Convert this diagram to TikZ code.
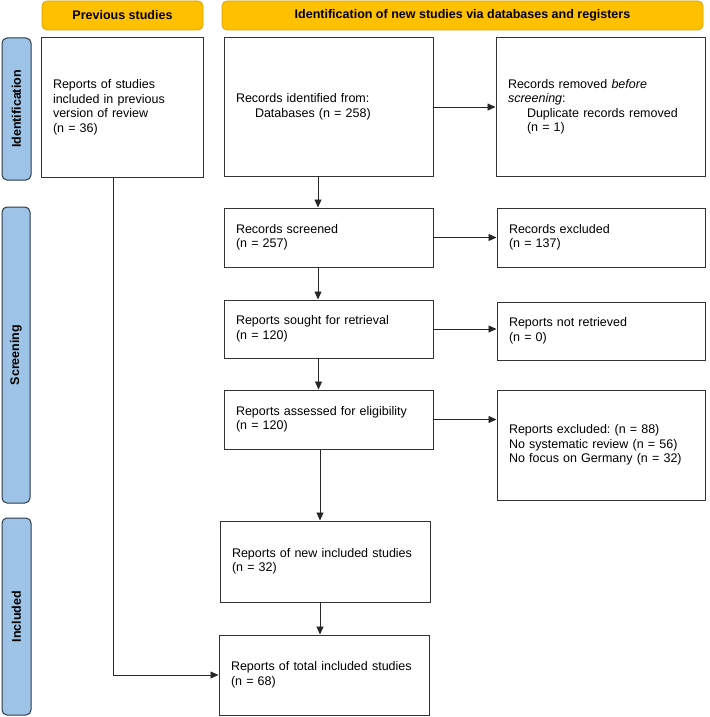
\documentclass[tikz,border=0pt]{standalone}
\usepackage{fontspec}
\setmainfont{Liberation Sans}
\usetikzlibrary{arrows.meta}
\definecolor{hdrfill}{HTML}{FFC000}
\definecolor{hdrdraw}{HTML}{D9A300}
\definecolor{sidefill}{HTML}{9DC3E6}
\definecolor{sidedraw}{HTML}{2E3A4A}
\definecolor{boxdraw}{HTML}{333333}
\frenchspacing
\begin{document}
\begin{tikzpicture}[x=1pt,y=-1pt,
  font=\fontsize{12.5}{14.5}\selectfont,
  hdr/.style={draw=hdrdraw,fill=hdrfill,rounded corners=5pt,line width=0.8pt,inner sep=0pt,font=\fontsize{12.5}{14.5}\selectfont\bfseries},
  side/.style={draw=sidedraw,fill=sidefill,rounded corners=5pt,line width=1pt,inner sep=0pt,rotate=90,font=\fontsize{12.5}{14.5}\selectfont\bfseries},
  flowbox/.style={draw=boxdraw,line width=1pt,inner xsep=12pt,inner ysep=0pt,align=left},
  conn/.style={draw=black!85,line width=0.8pt,-{Triangle[length=8pt,width=7pt]}}
]
\useasboundingbox (0,0) rectangle (709,717);
% headers
\node[hdr,minimum width=161pt,minimum height=29pt] (prevhead) at (122.5,15.5) {Previous studies};
\node[hdr,minimum width=481pt,minimum height=29pt] (idhead) at (462.5,15.5) {Identification of new studies via databases and registers};
% side labels
\node[side,minimum width=142pt,minimum height=29pt] (sideid) at (16.5,109) {Identification};
\node[side,minimum width=296pt,minimum height=28pt] (sidescr) at (16,355) {Screening};
\node[side,minimum width=197pt,minimum height=29pt] (sideinc) at (16.5,616.5) {Included};
% boxes
\node[flowbox,minimum width=162pt,minimum height=139pt,text width=138pt] (prev) at (122,107.5)
  {Reports of studies\\included in previous\\version of review\\(n = 36)};
\node[flowbox,minimum width=209pt,minimum height=138pt,text width=185pt] (ident) at (328.5,107)
  {Records identified from:\\\hspace*{19pt}Databases (n = 258)\\[14pt]};
\node[flowbox,minimum width=209pt,minimum height=138pt,text width=185pt] (removed) at (600.5,107)
  {Records removed \textit{before}\\\textit{screening}:\\\hspace*{19pt}Duplicate records removed\\\hspace*{19pt}(n = 1)\\[14pt]};
\node[flowbox,minimum width=209pt,minimum height=59pt,text width=185pt] (screened) at (328.5,237.5)
  {Records screened\\(n = 257)};
\node[flowbox,minimum width=208pt,minimum height=59pt,text width=184pt] (excl) at (601,237.5)
  {Records excluded\\(n = 137)};
\node[flowbox,minimum width=209pt,minimum height=58pt,text width=185pt] (sought) at (328.5,329)
  {Reports sought for retrieval\\(n = 120)};
\node[flowbox,minimum width=208pt,minimum height=58pt,text width=184pt] (notret) at (601,331)
  {Reports not retrieved\\(n = 0)};
\node[flowbox,minimum width=209pt,minimum height=59pt,text width=185pt] (assessed) at (328.5,419.5)
  {Reports assessed for eligibility\\(n = 120)};
\node[flowbox,minimum width=208pt,minimum height=110pt,text width=184pt] (rexcl) at (601,445)
  {Reports excluded: (n = 88)\\No systematic review (n = 56)\\No focus on Germany (n = 32)\\[14pt]};
\node[flowbox,minimum width=210pt,minimum height=81pt,text width=186pt] (newinc) at (325,561.5)
  {Reports of new included studies\\(n = 32)};
\node[flowbox,minimum width=210pt,minimum height=80pt,text width=186pt] (total) at (324,675)
  {Reports of total included studies\\(n = 68)};
% connectors
\draw[conn] (ident.east) -- (removed.west);
\draw[conn] ([xshift=-10.5pt]ident.south) -- ([xshift=-10.5pt]ident.south |- screened.north);
\draw[conn] (screened.east) -- (excl.west);
\draw[conn] ([xshift=-10.5pt]screened.south) -- ([xshift=-10.5pt]screened.south |- sought.north);
\draw[conn] (sought.east) -- (sought.east -| notret.west);
\draw[conn] ([xshift=-10pt]sought.south) -- ([xshift=-10pt]sought.south |- assessed.north);
\draw[conn] (assessed.east) -- (assessed.east -| rexcl.west);
\draw[conn] ([xshift=-8.5pt]assessed.south) -- ([xshift=-8.5pt]assessed.south |- newinc.north);
\draw[conn] ([xshift=-5pt]newinc.south) -- ([xshift=-5pt]newinc.south |- total.north);
\draw[conn] ([xshift=-9pt]prev.south) |- (total.west);
\end{tikzpicture}
\end{document}
